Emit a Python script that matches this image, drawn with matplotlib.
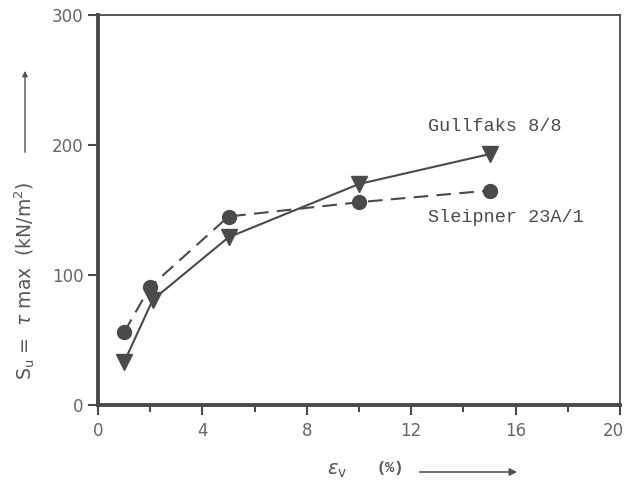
import matplotlib
matplotlib.use("Agg")
import matplotlib.pyplot as plt
import matplotlib.transforms as mtransforms

# Data
gullfaks_x = [1, 2.1, 5, 10, 15]
gullfaks_y = [33, 81, 129, 170, 193]
sleipner_x = [1, 2, 5, 10, 15]
sleipner_y = [56, 91, 145, 156, 165]
gullfaks_label = "Gullfaks 8/8"
sleipner_label = "Sleipner 23A/1"
xticks = [0, 4, 8, 12, 16, 20]
yticks = [0, 100, 200, 300]

col = "#4a4a4a"
W, H = 627, 493
fig = plt.figure(figsize=(W/100, H/100), dpi=100)
ax = fig.add_axes([98/W, 1-405/H, (620-98)/W, (405-15)/H])

ax.plot(gullfaks_x, gullfaks_y, '-', color=col, lw=1.5, marker='v', ms=11, mfc=col, mec=col)
ax.plot(sleipner_x, sleipner_y, '--', color=col, lw=1.5, dashes=(7, 4), marker='o', ms=10, mfc=col, mec=col)

ax.set_xlim(0, 20)
ax.set_ylim(0, 300)
ax.set_xticks(xticks)
ax.set_xticks([2, 6, 10, 14, 18], minor=True)
ax.set_yticks(yticks)
ax.tick_params(axis='both', which='both', direction='out', colors=col, labelcolor='#666666',
               labelsize=12, width=1.5)
ax.tick_params(axis='both', which='major', length=7)
ax.tick_params(axis='x', which='minor', length=5)
ax.tick_params(axis='x', pad=5)
for s in ['left', 'bottom']:
    ax.spines[s].set_linewidth(2.8)
    ax.spines[s].set_color(col)
for s in ['top', 'right']:
    ax.spines[s].set_linewidth(1.3)
    ax.spines[s].set_color(col)

# keep the last x tick label inside the canvas
fig.canvas.draw()
last = ax.get_xticklabels()[-1]
last.set_transform(last.get_transform() + mtransforms.ScaledTranslation(-7/100, 0, fig.dpi_scale_trans))

mono = "Liberation Mono"
ax.text(12.64, 214, gullfaks_label, family=mono, fontsize=13.3, color=col, va='center')
ax.text(12.64, 144, sleipner_label, family=mono, fontsize=13.3, color=col, va='center')

# y-axis label with arrow
fig.text(25/W, 1-281/H, r"$\mathrm{S_u}$ =  $\tau$ max  (kN/m$^2$)", rotation=90, ha='center', va='center',
         fontsize=13.5, color='#555555')
fig.add_artist(matplotlib.patches.FancyArrowPatch((25/W, 1-155/H), (25/W, 1-68/H),
               transform=fig.transFigure, arrowstyle='-|>', mutation_scale=8, color='#555555', lw=1))

# x-axis label with arrow
fig.text(337/W, 1-470/H, r"$\varepsilon_\mathrm{v}$", ha='center', va='center', fontsize=14, color='#555555')
fig.text(390/W, 1-468/H, "(%)", ha='center', va='center', fontsize=11, color='#555555', family=mono, weight='bold')
fig.add_artist(matplotlib.patches.FancyArrowPatch((417/W, 1-472/H), (520/W, 1-472/H),
               transform=fig.transFigure, arrowstyle='-|>', mutation_scale=11, color='#555555', lw=1.2))

fig.savefig("out.png", dpi=100)
